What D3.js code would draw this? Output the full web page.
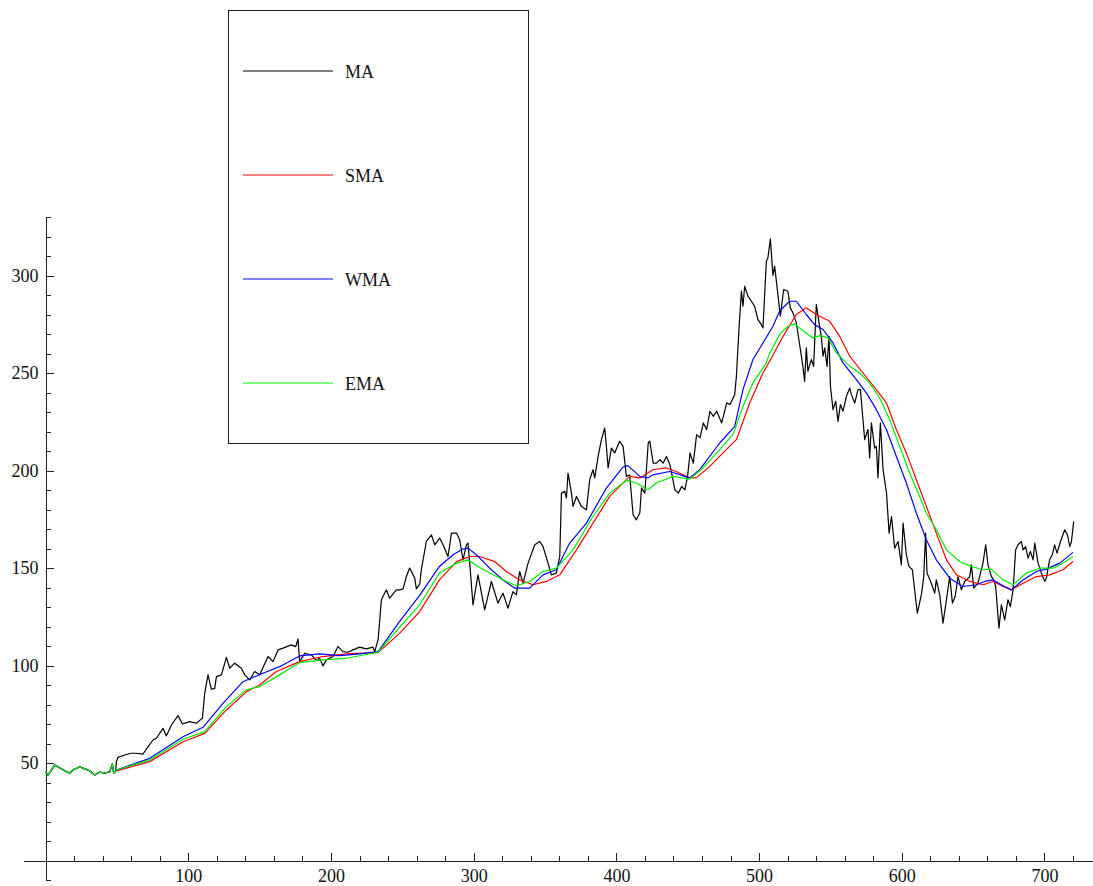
<!DOCTYPE html>
<html>
<head>
<meta charset="utf-8">
<script src="https://cdn.jsdelivr.net/npm/d3@7"></script>
<style>
  body { margin: 0; background: #fff; }
  svg { display: block; font-family: "Liberation Serif", "DejaVu Serif", serif; }
  .axis path, .axis line { stroke: #222; shape-rendering: crispEdges; }
  .axis text { font-family: "Liberation Serif", serif; font-size: 18px; fill: #111; }
  .series { fill: none; stroke-width: 1.2; stroke-linejoin: round; }
</style>
</head>
<body>
<svg width="1093" height="886"></svg>
<script>
// start of the series, where all four curves coincide
const head = [[0,45.5],[1.7,43.8],[6.4,49],[9.9,47.5],[13.4,46],[16.9,44.8],[19,46.4],[23.9,48],
  [27.4,47],[30.9,46],[34.4,43.8],[37.9,45.4],[41.4,44.8],[44.9,45.5],[46.8,49.5],[47.7,44.8],[49.1,46]];

const maRest = [[49.6,50.7],[50.7,52.9],[55.4,54.1],[60,55],[63.6,55],[68.3,54.6],[71.8,58.4],[75.3,61.8],
  [77.6,62.7],[82.3,67.8],[84.6,63.9],[88.2,69.5],[92.8,74.3],[95.9,70],[101,71.2],[105.7,70.4],[109.9,73],
  [111.5,85.8],[113.8,95.2],[116.2,87.8],[118.5,88.3],[119.7,94.3],[123.2,95.2],[126.7,104.2],[129,98.6],
  [132.5,101.2],[137.2,98.6],[139.5,95.2],[143,92.6],[146.5,96.9],[150,95.2],[155.9,104.6],[159.4,102],
  [162.9,108],[166.4,108.9],[172.2,110.6],[175.3,109.7],[176.9,113.6],[178,102],[181.6,106.3],[186.3,105.4],
  [189.8,102.5],[192,103.7],[194.4,99.8],[196.8,102.9],[201.4,104.6],[204.9,109.7],[208.4,107.1],
  [211.9,106.8],[215.4,108],[220,109.4],[224.8,108.5],[229.4,109.4],[230.6,107.1],[233,113.1],[235.3,133.7],
  [238.8,138.8],[241.1,134.5],[245.8,138.8],[248,138.8],[250.5,139.3],[252.8,145.6],[255.1,150],
  [258.7,144.8],[259.8,139.3],[262.2,141.9],[263.3,149.1],[266.8,163.6],[270.4,167],[272.7,161.9],
  [276.2,165.3],[278.5,161.9],[282,155.9],[284.4,167.9],[287.9,167.9],[290.2,164.5],[292.5,154.2],
  [294.9,161.9],[296,162.8],[297.2,152.5],[299.5,131.1],[303,146.5],[307.7,128.5],[312.4,143.1],[317,132],
  [320.5,137.1],[324,129.4],[327.5,137.9],[329.9,136.2],[332.2,148.2],[334.6,142.2],[338.1,152.5],
  [342.8,161.9],[346.3,163.6],[348.6,161],[352.1,152.5],[354.4,146.5],[357.9,147.4],[360.3,155.9],
  [361.5,188.4],[363.8,189.3],[365,185.9],[366.1,198.7],[368.5,188.4],[369.6,181.6],[372,186.7],
  [375.5,181.6],[379,179.9],[381.3,195.3],[383.6,200.4],[384.8,196.2],[387.2,207.2],[389.5,215.8],
  [391.8,221.8],[393,212.4],[394.2,201.3],[396.5,211.5],[398.8,209],[402.3,215],[404.7,212.4],[407,197],
  [409.3,197.8],[411.7,177.3],[414,174.7],[416.4,178.2],[417.6,191],[419.9,188.4],[422.3,214.1],[423.4,215],
  [425.8,203.8],[428.1,203.8],[430.5,205.5],[432.8,203.8],[435.1,207.2],[437.5,203],[438.7,198.7],
  [441,190.1],[443.4,188.4],[445.7,191.8],[448,190.1],[449.9,197],[451.6,209],[453.9,203.8],[456.2,218.4],
  [458.6,216.7],[460.9,224.4],[463.2,221],[465.6,230.4],[467.9,227.8],[470.3,230.4],[473.8,224.4],
  [477.3,234.7],[479.6,233.8],[482.9,238.9],[484.1,248.3],[486,274],[487.6,292],[488.7,284.2],
  [489.9,294.5],[492.2,289.4],[494.6,286.8],[496.9,284.2],[499.2,277.4],[501.6,274.8],[502.7,273.1],
  [505.1,307.3],[506.2,309.1],[507.9,318.8],[509.7,300],[510.9,304.8],[513.3,289.4],[514.9,279.1],
  [517.2,292.8],[520.2,291.9],[521.9,283.4],[523.7,280.9],[526.1,275.7],[528.4,264.6],[530.7,253.4],
  [531.9,245.7],[533.1,262.9],[534.2,250.9],[536.6,256.9],[538.2,253.4],[540.1,285.1],[542,275.7],
  [543.6,268.8],[544.8,258.6],[546,262.9],[547.6,253.4],[549,268.8],[550,243.2],[551.8,231.2],
  [553.7,235.5],[555.3,225.2],[557,233.8],[558.8,230.4],[561.2,238],[563.5,242.3],[564.7,238.9],
  [567,234.6],[569.3,241.5],[571,241.5],[572.8,226.1],[574,215.8],[576.3,221],[577.5,206.4],[578.7,224.4],
  [581,211.5],[582.2,212.4],[583.3,196.2],[585,224.4],[586.9,200.4],[589.3,188.4],[591.1,167.9],
  [592.8,176.4],[595,160.2],[597.4,163.6],[599.7,151.6],[600.9,173],[603.2,156.8],[605,150.8],
  [607.4,149.1],[610.9,126.8],[613.7,136.2],[615.3,144.8],[616.7,167.9],[617.7,147.4],[620.7,142.2],
  [623.1,137.1],[624.2,143.9],[626.6,136.2],[628.9,121.7],[631.3,133.7],[633.6,145.6],[635.5,132],
  [637.4,135.4],[639.4,145.6],[641.8,138.8],[644.1,143.1],[647.6,145.6],[648.8,151.6],[650.4,139.7],
  [653.4,142.2],[656.9,152.5],[658.8,161.9],[660.4,151.6],[662.8,145.6],[664.4,143.9],[665.8,140.5],
  [667,129.4],[668.1,119.1],[669.8,131.1],[672.1,123.4],[674.4,133.7],[676.1,130.2],[678,138.8],
  [679.8,159.3],[681.5,161.9],[683.8,163.6],[685,159.3],[686.8,161],[688.5,155.1],[690.1,158.5],
  [692,154.2],[693.2,162.8],[695.5,152.5],[697.8,147.4],[700.2,143.1],[701.3,144.8],[703.6,154.2],
  [705.5,156.8],[707.1,161.9],[708.8,157.6],[711.2,163.6],[714.2,169.6],[716.1,167],[717.7,161],
  [718.9,163.6],[720.5,173.9]];

const smaRest = [[49.6,46],[73,50.7],[96.3,60.9],[111.5,65.2],[126.7,77.2],[140.7,86.6],[150,90],
  [161.7,96.9],[178,102],[194.4,104.6],[210.8,106],[233,106.6],[248,116.5],[262,127.5],[276,143.9],
  [287.9,153.3],[297.2,155.9],[304.2,155.9],[314.7,153.3],[322.9,148.2],[332.2,143.9],[341.6,141.4],
  [350.9,143.1],[360.3,146.5],[372,159.3],[383.6,173],[395.3,186.7],[409.3,197],[416.4,196.2],
  [425.6,200.4],[435,201.3],[441.9,199.5],[451.3,196.2],[456,196.2],[465.4,202.1],[474.7,209],
  [484.1,215.8],[493.4,234.6],[502.7,250],[507.4,256],[516.8,268.8],[526.1,280],[533.1,283.4],
  [540.1,280],[549.5,276.5],[556.5,268.8],[563.5,258.6],[572.8,250],[582.2,241.5],[589.3,234.6],
  [596.2,220.9],[603.2,208.9],[610.2,195.3],[617.2,181.6],[624.2,167.9],[631.3,154.2],[638.3,146.5],
  [647.6,143.1],[657,141.4],[664,143.1],[671,140.5],[676.8,138.8],[685,142.2],[694.3,145.6],
  [703.6,146.5],[713,149.1],[720,153.3]];

const wmaRest = [[49.6,46.4],[73,52.4],[96.3,63.5],[110.3,68.3],[124.3,80.6],[138.3,91.7],[152.3,96],
  [164,99.4],[178,104.9],[192,106],[206,105.1],[220,106],[233,107.1],[248,122.5],[262,135.8],[276,150.8],
  [285.5,156.8],[292.5,159.7],[296,160.2],[301.9,156.8],[311.2,149.9],[320.5,143.9],[328.7,139.7],
  [339.2,139.7],[348.6,146.5],[357.9,149.1],[367.3,162.8],[379,173],[393,191],[404.7,201.8],[408.1,202.5],
  [416.4,197],[422.1,196.2],[425.6,197.8],[437.3,199.5],[451.3,196.2],[458.4,200.4],[472.4,214.1],
  [482.9,222.6],[488.7,241.5],[495.7,256.9],[502.7,265.4],[509.7,274],[514.4,281.8],[521.4,286.8],
  [526.1,286.8],[533.1,280],[538.9,274.8],[544.8,272.3],[551.8,265.4],[558.8,255.2],[568.2,246.6],
  [575.2,239.8],[582.2,231.2],[589.3,220.9],[596.2,207.2],[603.2,193.6],[610.2,178.2],[617.2,164.5],
  [624.2,154.2],[633.6,144.8],[642.9,140.5],[652.3,141.4],[658.1,143.1],[664,143.9],[671,140.9],
  [676.8,138.8],[685,143.9],[694.3,148.2],[701.3,149.4],[710.7,152.5],[720,158]];

const emaRest = [[49.6,46.4],[73,51.5],[96.3,62.2],[111.5,66.1],[126.7,78.9],[140.7,87.5],[150,89.2],
  [164,95.2],[178,101.5],[194.4,102.9],[210.8,103.7],[233,106.8],[248,119.5],[262,131],[276,147.4],
  [287.9,152.5],[296,154.2],[303,150.8],[313.5,146.5],[322.9,143.1],[329.9,140.9],[339.2,143.1],
  [348.6,148.2],[357.9,149.9],[369.6,159.3],[383.6,176.4],[395.3,188.4],[407,194.9],[414,193.6],
  [422.1,190.1],[428,193.6],[439.7,197],[451.3,195.6],[460.7,201.3],[472.4,210.7],[481.7,218.4],
  [488.7,232.9],[495.7,244.9],[505.1,255.2],[507.4,260],[514.4,269.8],[520.2,274],[524.9,275.2],
  [529.6,272.3],[537.8,268],[542.5,269.2],[548.4,268],[554.2,260.3],[563.5,253.4],[570.5,250],
  [577.5,244.9],[584.5,237.2],[591.5,226.1],[598.5,212.4],[605.5,198.7],[612.5,186.7],[617.2,178.2],
  [624.2,169.6],[631.3,159.3],[640.6,153.3],[647.6,151.1],[657,149.1],[662.8,149.4],[671,143.9],
  [678,141.4],[687.3,147.4],[696.6,149.9],[706,149.9],[713,152.5],[720,155.9]];

const seriesNames = ["MA", "SMA", "WMA", "EMA"];
const seriesColors = ["#000000", "#ff0000", "#0000ff", "#00ee00"];
const seriesData = [head.concat(maRest), head.concat(smaRest), head.concat(wmaRest), head.concat(emaRest)];

const xMajor = [100, 200, 300, 400, 500, 600, 700];
const yMajor = [50, 100, 150, 200, 250, 300];

const svg = d3.select("svg");
const width = 1093;

const x = d3.scaleLinear().domain([-15.5, 734]).range([23.5, width]);
const y = d3.scaleLinear().domain([-10, 330]).range([880, 217]);

const xMinor = d3.range(20, 721, 20).filter(v => v % 100 !== 0);
const yMinor = d3.range(-10, 331, 10).filter(v => v !== 0 && v % 50 !== 0);

// x axis (crosses at y = 0)
svg.append("g")
  .attr("class", "axis")
  .attr("transform", `translate(0,${y(0)})`)
  .call(d3.axisBottom(x).tickValues(xMajor).tickSizeInner(-8).tickSizeOuter(0).tickPadding(9));
svg.append("g")
  .attr("class", "axis minor")
  .attr("transform", `translate(0,${y(0)})`)
  .call(d3.axisBottom(x).tickValues(xMinor).tickSizeInner(-5).tickSizeOuter(0).tickFormat(""))
  .select(".domain").remove();

// y axis (crosses at x = 0)
svg.append("g")
  .attr("class", "axis")
  .attr("transform", `translate(${x(0)},0)`)
  .call(d3.axisLeft(y).tickValues(yMajor).tickSizeInner(-8).tickSizeOuter(0).tickPadding(7));
svg.append("g")
  .attr("class", "axis minor")
  .attr("transform", `translate(${x(0)},0)`)
  .call(d3.axisLeft(y).tickValues(yMinor).tickSizeInner(-5).tickSizeOuter(0).tickFormat(""))
  .select(".domain").remove();

const line = d3.line().x(d => x(d[0])).y(d => y(d[1]));

svg.selectAll(".series")
  .data(seriesData)
  .enter()
  .append("path")
  .attr("class", "series")
  .attr("stroke", (d, i) => seriesColors[i])
  .attr("d", line);

// legend
const legend = svg.append("g").attr("transform", "translate(228,10)");
legend.append("rect")
  .attr("x", 0.5).attr("y", 0.5)
  .attr("width", 300).attr("height", 433)
  .attr("fill", "#fff")
  .attr("stroke", "#222");

const items = legend.selectAll(".item")
  .data(seriesNames)
  .enter()
  .append("g")
  .attr("class", "item")
  .attr("transform", (d, i) => `translate(0,${61 + i * 104})`);
items.append("line")
  .attr("x1", 15).attr("x2", 105)
  .attr("stroke", (d, i) => seriesColors[i])
  .attr("stroke-width", 1.2);
items.append("text")
  .attr("x", 117)
  .attr("y", 6.5)
  .attr("font-size", 18)
  .attr("fill", "#111")
  .text(d => d);
</script>
</body>
</html>
